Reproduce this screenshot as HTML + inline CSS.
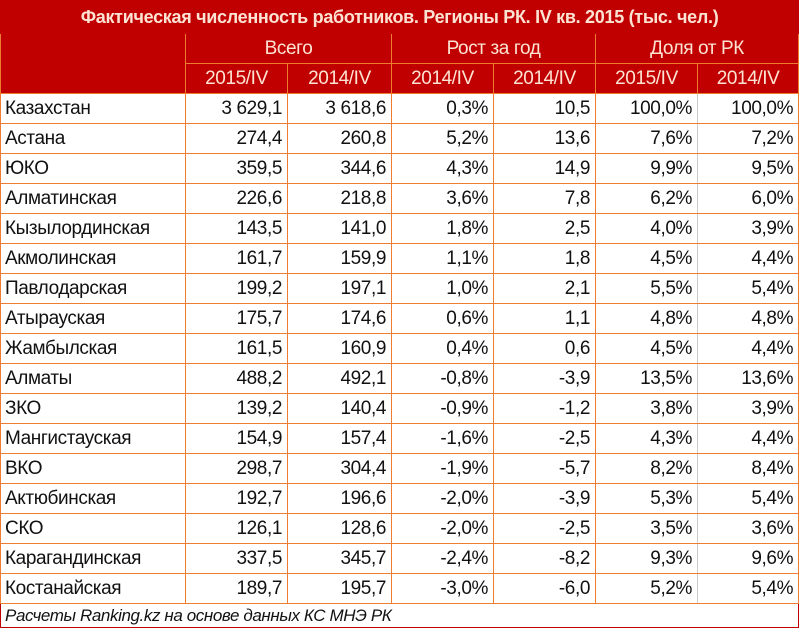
<!DOCTYPE html>
<html><head><meta charset="utf-8"><style>
body{margin:0;width:800px;height:629px;background:#fff;overflow:hidden;font-family:"Liberation Sans",sans-serif}
table{position:absolute;left:0;top:0;border-collapse:collapse;width:798px;table-layout:fixed}
td{padding:0 5px;height:29px;border:1px solid #ee7d31;font-size:19px;color:#111;white-space:nowrap;overflow:hidden;text-align:right;letter-spacing:-0.4px}
td.n{text-align:left;padding-left:4px}
td.g{border-right-color:#ccc}
tr.h td{background:#c00000;color:#fde3d3;text-align:center;border-color:#ee7d31}
tr.t td{background:#c00000;color:#fde3d3;font-weight:bold;font-size:18px;text-align:center;height:32px;border:1px solid #c00000;letter-spacing:-0.3px}
tr.f td{text-align:left;font-style:italic;border:1px solid #c00000;height:23px;padding-left:4px;font-size:17px}
</style></head><body>
<table>
<colgroup><col style="width:185px"><col style="width:102px"><col style="width:104px"><col style="width:102px"><col style="width:102px"><col style="width:102px"><col style="width:101px"></colgroup>
<tr class="t"><td colspan="7">Фактическая численность работников. Регионы РК. IV кв. 2015 (тыс. чел.)</td></tr>
<tr class="h"><td rowspan="2"></td><td colspan="2">Всего</td><td colspan="2">Рост за год</td><td colspan="2">Доля от РК</td></tr>
<tr class="h"><td>2015/IV</td><td>2014/IV</td><td>2014/IV</td><td>2014/IV</td><td>2015/IV</td><td>2014/IV</td></tr>
<tr><td class="n">Казахстан</td><td>3 629,1</td><td>3 618,6</td><td>0,3%</td><td>10,5</td><td class="g">100,0%</td><td>100,0%</td></tr>
<tr><td class="n">Астана</td><td>274,4</td><td>260,8</td><td>5,2%</td><td>13,6</td><td class="g">7,6%</td><td>7,2%</td></tr>
<tr><td class="n">ЮКО</td><td>359,5</td><td>344,6</td><td>4,3%</td><td>14,9</td><td class="g">9,9%</td><td>9,5%</td></tr>
<tr><td class="n">Алматинская</td><td>226,6</td><td>218,8</td><td>3,6%</td><td>7,8</td><td class="g">6,2%</td><td>6,0%</td></tr>
<tr><td class="n">Кызылординская</td><td>143,5</td><td>141,0</td><td>1,8%</td><td>2,5</td><td class="g">4,0%</td><td>3,9%</td></tr>
<tr><td class="n">Акмолинская</td><td>161,7</td><td>159,9</td><td>1,1%</td><td>1,8</td><td class="g">4,5%</td><td>4,4%</td></tr>
<tr><td class="n">Павлодарская</td><td>199,2</td><td>197,1</td><td>1,0%</td><td>2,1</td><td class="g">5,5%</td><td>5,4%</td></tr>
<tr><td class="n">Атырауская</td><td>175,7</td><td>174,6</td><td>0,6%</td><td>1,1</td><td class="g">4,8%</td><td>4,8%</td></tr>
<tr><td class="n">Жамбылская</td><td>161,5</td><td>160,9</td><td>0,4%</td><td>0,6</td><td class="g">4,5%</td><td>4,4%</td></tr>
<tr><td class="n">Алматы</td><td>488,2</td><td>492,1</td><td>-0,8%</td><td>-3,9</td><td class="g">13,5%</td><td>13,6%</td></tr>
<tr><td class="n">ЗКО</td><td>139,2</td><td>140,4</td><td>-0,9%</td><td>-1,2</td><td class="g">3,8%</td><td>3,9%</td></tr>
<tr><td class="n">Мангистауская</td><td>154,9</td><td>157,4</td><td>-1,6%</td><td>-2,5</td><td class="g">4,3%</td><td>4,4%</td></tr>
<tr><td class="n">ВКО</td><td>298,7</td><td>304,4</td><td>-1,9%</td><td>-5,7</td><td class="g">8,2%</td><td>8,4%</td></tr>
<tr><td class="n">Актюбинская</td><td>192,7</td><td>196,6</td><td>-2,0%</td><td>-3,9</td><td class="g">5,3%</td><td>5,4%</td></tr>
<tr><td class="n">СКО</td><td>126,1</td><td>128,6</td><td>-2,0%</td><td>-2,5</td><td class="g">3,5%</td><td>3,6%</td></tr>
<tr><td class="n">Карагандинская</td><td>337,5</td><td>345,7</td><td>-2,4%</td><td>-8,2</td><td class="g">9,3%</td><td>9,6%</td></tr>
<tr><td class="n">Костанайская</td><td>189,7</td><td>195,7</td><td>-3,0%</td><td>-6,0</td><td class="g">5,2%</td><td>5,4%</td></tr>
<tr class="f"><td colspan="7">Расчеты Ranking.kz на основе данных КС МНЭ РК</td></tr>
</table>
</body></html>
